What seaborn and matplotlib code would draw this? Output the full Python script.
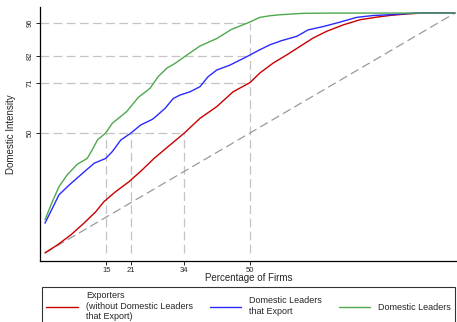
import matplotlib
matplotlib.use("Agg")
import matplotlib.pyplot as plt
import seaborn as sns
import pandas as pd
from matplotlib.lines import Line2D

sns.set_theme(style="white")
plt.rcParams["font.family"] = ["Liberation Sans", "DejaVu Sans"]

# Cumulative domestic intensity by percentage of firms
x_exp = [0, 3, 6.3, 9.5, 12.4, 14.4, 17.2, 20.5, 23.7, 26.6, 30.5, 34, 37.8,
         41.9, 45.9, 50, 52.4, 55.7, 59, 62.2, 65.4, 68.7, 72.8, 76.8, 80.9,
         84.1, 88, 92, 100]
y_exp = [0, 3.3, 7.5, 12.4, 17.2, 21.4, 25.5, 29.7, 34.6, 39.4, 45, 50, 56.1,
         61, 67.2, 71, 75, 79.2, 82.6, 86.1, 89.6, 92.4, 95.1, 97.2, 98.3,
         99, 99.6, 100, 100]

x_dle = [0, 1.8, 3.4, 5.9, 8.7, 12, 14.8, 16.4, 18.5, 21, 23.3, 26.2, 27.2,
         29.3, 31.3, 32.9, 35.4, 37.8, 39.8, 41.9, 45.1, 49.2, 52.4, 54.9,
         57.7, 61.4, 64.2, 67.9, 72, 76, 80.1, 84.1, 90, 95, 100]
y_dle = [12.4, 18.6, 24.2, 28.3, 32.5, 37.4, 39.4, 42.2, 47.1, 50, 53.3, 55.7,
         57.1, 60.3, 64.4, 65.8, 67.2, 69.3, 73.5, 76.25, 78.3, 81.8, 84.7,
         86.8, 88.5, 90.3, 93, 94.4, 96.25, 98.2, 99, 99.3, 100, 100, 100]

x_dl = [0, 1.8, 3.4, 5.4, 7.9, 10.3, 11.5, 12.8, 14.8, 16.4, 18.9, 19.9,
        22.8, 25.6, 27.6, 29.7, 31.7, 34.6, 37.8, 41.9, 45.5, 49.6, 52.4,
        54.9, 57.3, 63, 70, 80, 90, 100]
y_dl = [13.8, 21.4, 27.6, 32.5, 37, 39.4, 42.9, 47.1, 50, 54, 57.5, 58.9,
        64.9, 68.6, 73.5, 77, 79, 82.5, 86.25, 89.4, 93.2, 96, 98.2, 98.9,
        99.3, 99.9, 100, 100, 100, 100]

labels = ["Exporters\n(without Domestic Leaders\nthat Export)",
          "Domestic Leaders\nthat Export",
          "Domestic Leaders"]
colors = ["#c80000", "#2a2aff", "#4ea84e"]

# Crossing points marked with reference lines
x_marks = [15, 21, 34, 50]
y_marks = [50, 71, 82, 96]

df = pd.concat([
    pd.DataFrame({"pct": x_exp, "intensity": y_exp, "group": labels[0]}),
    pd.DataFrame({"pct": x_dle, "intensity": y_dle, "group": labels[1]}),
    pd.DataFrame({"pct": x_dl, "intensity": y_dl, "group": labels[2]}),
])

fig = plt.figure(figsize=(4.57, 3.22), dpi=100)
ax = fig.add_axes([0.0875, 0.19, 0.9125, 0.788])
xmin, xmax = -1.22, 100.5
ymin, ymax = -3.3, 102.5
ax.set_xlim(xmin, xmax)
ax.set_ylim(ymin, ymax)

ref = dict(color="#c4c4c4", lw=0.9, dashes=(7, 3.5), zorder=1)
# horizontal guides
ax.plot([xmin, 34], [50, 50], **ref)
for yv in y_marks[1:]:
    ax.plot([xmin, 50], [yv, yv], **ref)
# vertical guides
for xv in x_marks[:3]:
    ax.plot([xv, xv], [0, 50], **ref)
ax.plot([50, 50], [0, 96], **ref)

# 45-degree equality line
ax.plot([0, 100], [0, 100], color="#9a9a9a", lw=0.9, dashes=(7, 3.5), zorder=2)

sns.lineplot(data=df, x="pct", y="intensity", hue="group", hue_order=labels,
             palette=colors, linewidth=1.0, ax=ax, legend=False, zorder=3,
             sort=False, estimator=None, solid_joinstyle="round")

ax.set_xticks(x_marks)
ax.set_yticks(y_marks)
ax.set_xticklabels([str(v) for v in x_marks], fontsize=5.5)
ax.set_yticklabels([str(v) for v in y_marks], fontsize=5.5, rotation=90,
                   va="center")
ax.tick_params(axis="both", which="both", direction="out", length=3,
               width=0.6, color="black", pad=1.5, bottom=True, left=True)
ax.set_xlabel("Percentage of Firms", fontsize=7, labelpad=-0.5)
ax.set_ylabel("Domestic Intensity", fontsize=7, labelpad=8)

for side in ["top", "right"]:
    ax.spines[side].set_visible(False)
for side in ["left", "bottom"]:
    ax.spines[side].set_color("black")
    ax.spines[side].set_linewidth(0.9)

handles = [Line2D([0], [0], color=c, lw=1.0) for c in colors]
leg = fig.legend(handles, labels, loc="upper left", ncol=3,
                 bbox_to_anchor=(0.092, 0.108), fontsize=6.5, frameon=True,
                 fancybox=False, handlelength=3.5, handletextpad=0.9,
                 columnspacing=1.85, borderpad=0.45, labelspacing=0.2,
                 borderaxespad=0)
leg.get_frame().set_edgecolor("black")
leg.get_frame().set_linewidth(0.8)

fig.savefig("out.png", dpi=100)
